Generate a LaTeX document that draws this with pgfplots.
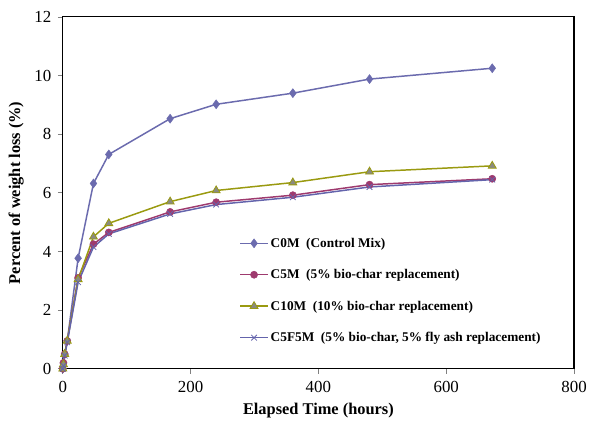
\documentclass[border=0pt]{standalone}
\usepackage{pgfplots}
\pgfplotsset{compat=1.18}
\usepackage{fontspec}
\setmainfont{Liberation Serif}
\definecolor{cA}{HTML}{6B6BAE}
\definecolor{cB}{HTML}{9E3A6E}
\definecolor{cC}{HTML}{9A9A10}
\definecolor{cCm}{HTML}{8A8A80}
\definecolor{cD}{HTML}{6464AC}
\begin{document}
\begin{tikzpicture}
\begin{axis}[
  scale only axis, width=513bp, height=353bp,
  xmin=0, xmax=800, ymin=0, ymax=12,
  xtick={0,200,...,800}, ytick={0,2,...,12},
  tick align=outside, tick pos=left,
  major tick length=5bp,
  every tick/.style={gray, line width=0.8pt},
  axis line style={black, line width=1.1pt},
  /pgf/number format/assume math mode=true,
  tick label style={font=\fontsize{17}{19}\selectfont},
  xticklabel style={yshift=-4bp},
  yticklabel style={xshift=-3bp},
  xlabel={\bfseries Elapsed Time (hours)},
  ylabel={\bfseries Percent of weight loss (\%)},
  label style={font=\fontsize{16.5}{18}\selectfont},
  xlabel style={yshift=-4bp},
  ylabel style={yshift=4bp},
  legend style={draw=none, fill=none, at={(0.345,0.378)}, anchor=north west,
    font=\fontsize{13.4}{15}\bfseries\selectfont, row sep=16.8bp, inner sep=0pt},
  legend cell align=left,
  legend image code/.code={\draw[#1] (0bp,0bp) -- (28bp,0bp); \draw[#1, mark repeat=2, mark phase=2] plot coordinates {(0bp,0bp) (14bp,0bp) (28bp,0bp)};},
]
\addplot[cA, line width=1.5pt, mark=diamond*, mark size=4.5pt, mark options={fill=cA, draw=cA, line width=0.5pt}] coordinates {
(0,0) (1,0.2) (3,0.5) (7,0.95) (24,3.77) (48,6.32) (72,7.31) (168,8.53) (240,9.02) (360,9.4) (480,9.88) (672,10.25)};
\addlegendentry{C0M\ \ (Control Mix)}
\addplot[cB, line width=1.5pt, mark=*, mark size=3.6pt, mark options={fill=cB, draw=cB, line width=0.5pt}] coordinates {
(0,0) (1,0.2) (3,0.5) (7,0.95) (24,3.1) (48,4.25) (72,4.65) (168,5.35) (240,5.68) (360,5.92) (480,6.28) (672,6.48)};
\addlegendentry{C5M\ \ (5\% bio-char replacement)}
\addplot[cC, line width=1.5pt, mark=triangle*, mark size=4.6pt, mark options={fill=cCm, draw=cC, line width=0.8pt}] coordinates {
(0,0) (1,0.15) (3,0.5) (7,0.95) (24,3.05) (48,4.5) (72,4.96) (168,5.7) (240,6.08) (360,6.35) (480,6.72) (672,6.92)};
\addlegendentry{C10M\ \ (10\% bio-char replacement)}
\addplot[cD, line width=1.5pt, mark=x, mark size=4pt, mark options={draw=cD, line width=0.8pt}] coordinates {
(0,0) (1,0.1) (3,0.45) (7,0.9) (24,2.95) (48,4.15) (72,4.6) (168,5.28) (240,5.6) (360,5.85) (480,6.2) (672,6.45)};
\addlegendentry{C5F5M\ \ (5\% bio-char, 5\% fly ash replacement)}
\end{axis}
\path[use as bounding box] (-63bp,-63bp) rectangle (527bp,370bp);
\end{tikzpicture}
\end{document}
